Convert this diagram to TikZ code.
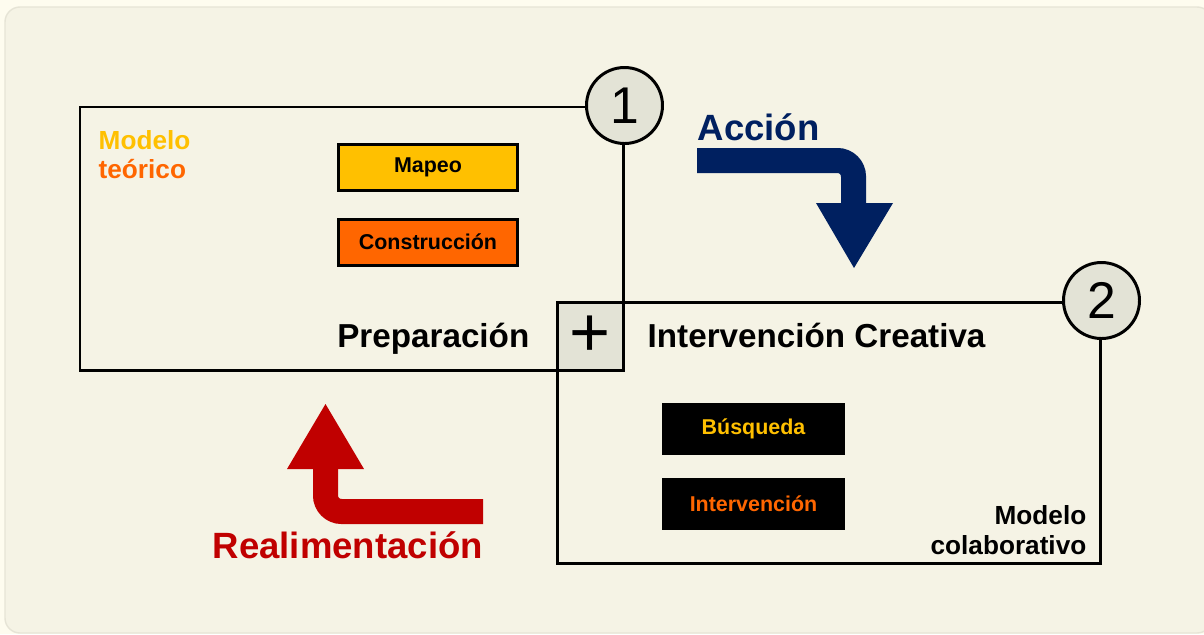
\documentclass[tikz,border=0pt]{standalone}
\usepackage{fontspec}
\setmainfont{Liberation Sans}
\usetikzlibrary{positioning,shapes}
\definecolor{pagebg}{HTML}{FEFCEF}
\definecolor{panelbg}{HTML}{F5F3E5}
\definecolor{panelline}{HTML}{E6E4D6}
\definecolor{stepgray}{HTML}{E3E3D6}
\definecolor{mapyellow}{HTML}{FFC000}
\definecolor{conorange}{HTML}{FF6600}
\definecolor{accnavy}{HTML}{002060}
\definecolor{realred}{HTML}{C00000}

\begin{document}
\begin{tikzpicture}[
    phase/.style={draw,line width=.85pt,inner sep=0pt,minimum width=5.43cm},
    numcircle/.style={draw,circle,line width=.85pt,fill=stepgray,inner sep=0pt,minimum size=.76cm,font=\fontsize{14.7}{16}\selectfont},
    task/.style={inner sep=0pt,font=\bfseries\fontsize{6.1}{7}\selectfont},
    bigtext/.style={inner sep=0pt,font=\bfseries\fontsize{9.45}{11}\selectfont},
    flowtext/.style={inner sep=0pt,font=\bfseries\fontsize{10.4}{12}\selectfont}]
    \useasboundingbox (0,0) rectangle (12.04,6.34);
    \fill[pagebg] (0,0) rectangle (12.04,6.34);
    \filldraw[fill=panelbg,draw=panelline,rounded corners=.15cm] (.05,.01) rectangle (12.12,6.27);

    % the two phases
    \node[phase,minimum height=2.63cm] (prep) at (3.515,3.955) {};
    \node[phase,minimum height=2.61cm] (interv) at (8.285,2.015) {};
    \node[draw,line width=.85pt,fill=stepgray,inner sep=0pt,minimum width=.66cm,minimum height=.68cm,
      font=\fontsize{20}{20}\selectfont] (plus) at (5.90,2.98) {+};
    \node[numcircle] (one) at (prep.north east) {1};
    \node[numcircle] (two) at (interv.north east) {2};

    \node[task,draw,line width=.85pt,fill=mapyellow,minimum width=1.79cm,minimum height=.46cm] (mapeo) at (4.28,4.665) {Mapeo};
    \node[task,draw,line width=.85pt,fill=conorange,minimum width=1.79cm,minimum height=.46cm] (constr) at (4.28,3.92) {Construcción};
    \node[task,fill=black,text=mapyellow,minimum width=1.83cm,minimum height=.52cm] (busq) at (7.535,2.05) {Búsqueda};
    \node[task,fill=black,text=conorange,minimum width=1.83cm,minimum height=.52cm] (intv) at (7.535,1.30) {Intervención};

    \node[anchor=north west,inner sep=0pt,align=left,font=\bfseries\fontsize{7.45}{8.3}\selectfont] (teorico) at (0.98,5.04)
      {\textcolor{mapyellow}{Modelo}\\\textcolor{conorange}{teórico}};
    \node[anchor=north east,inner sep=0pt,align=right,font=\bfseries\fontsize{7.45}{8.5}\selectfont] (colab) at (10.87,1.29)
      {Modelo\\colaborativo};
    \node[bigtext,anchor=base east] (preplabel) at (5.30,2.87) {Preparación};
    \node[bigtext,anchor=base west] (intlabel) at (6.47,2.87) {Intervención Creativa};

    % flow arrows
    \node[flowtext,anchor=base west,text=accnavy] (accion) at (6.97,4.94) {Acción};
    \draw[accnavy,line width=.25cm,rounded corners=.16cm] (6.97,4.735) -- (8.535,4.735) -- (8.535,4.30);
    \fill[accnavy] (8.16,4.31) -- (8.93,4.31) -- (8.54,3.66) -- cycle;

    \node[flowtext,anchor=base west,text=realred] (realim) at (2.12,0.76) {Realimentación};
    \draw[realred,line width=.25cm,rounded corners=.16cm] (4.83,1.225) -- (3.255,1.225) -- (3.255,1.66);
    \fill[realred] (2.87,1.65) -- (3.64,1.65) -- (3.255,2.30) -- cycle;
\end{tikzpicture}
\end{document}
